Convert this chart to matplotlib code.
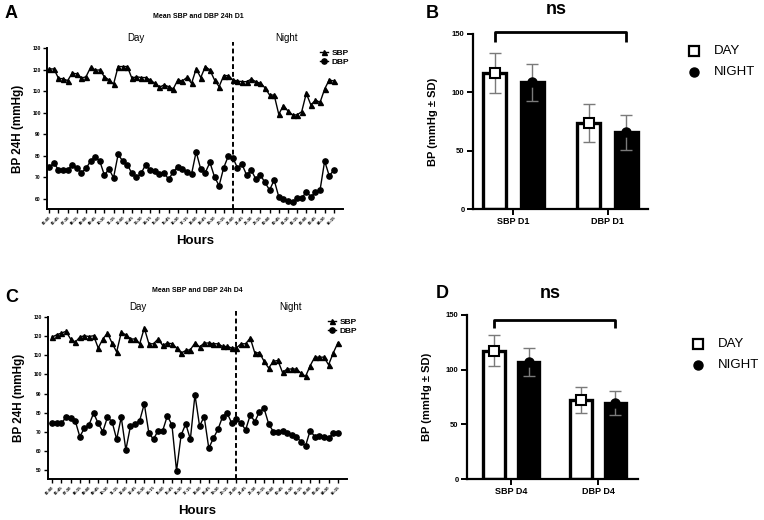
import matplotlib
matplotlib.use("Agg")
import matplotlib.pyplot as plt
import numpy as np

plt.rcParams['font.family'] = ['Liberation Sans', 'DejaVu Sans']
plt.rcParams['font.weight'] = 'bold'
plt.rcParams['axes.labelweight'] = 'bold'

W, H = 764, 520

# ---- 24h curves (one reading per slot, day slots then night slots) ----
sbp_d1 = [120.3, 120.3, 116.0, 115.7, 114.9, 118.4, 118.0, 116.0, 116.7, 121.0, 119.8, 119.8,
          116.7, 115.2, 113.2, 121.4, 121.4, 121.4, 116.0, 116.7, 116.3, 116.3, 115.2, 113.6,
          111.8, 112.9, 112.1, 111.0, 115.2, 114.7, 116.4, 113.6, 120.3, 116.3, 121.4, 119.8,
          115.2, 112.1, 117.2, 117.2, 115.2,
          114.7, 114.4, 114.4, 115.6, 114.4, 113.6, 111.6, 108.2, 108.2, 99.3, 103.3, 100.8,
          99.0, 99.0, 100.5, 109.0, 103.6, 105.9, 104.8, 111.0, 115.2, 114.7]
dbp_d1 = [75.0, 76.5, 73.7, 73.4, 73.4, 76.0, 74.5, 72.3, 74.2, 77.6, 79.6, 77.6,
          71.1, 73.9, 69.9, 80.7, 77.6, 76.0, 71.9, 70.0, 71.9, 76.0, 73.4, 73.0,
          71.6, 72.3, 69.1, 72.6, 75.0, 73.9, 72.6, 71.6, 81.9, 73.9, 72.3, 77.0,
          70.3, 66.2, 74.5, 79.9, 79.1,
          74.5, 76.1, 71.1, 73.4, 69.3, 71.1, 67.7, 64.2, 68.8, 61.1, 60.0, 59.2,
          58.5, 60.3, 60.3, 63.4, 61.1, 63.1, 64.2, 77.6, 70.8, 73.4]
sbp_d4 = [119.5, 120.7, 121.6, 122.5, 118.5, 116.7, 119.5, 120.2, 119.8, 120.2, 113.8, 118.5,
          121.6, 116.4, 111.7, 121.9, 120.7, 118.5, 118.5, 116.0, 124.2, 116.0, 116.0, 118.5,
          115.1, 116.4, 116.0, 113.8, 111.1, 112.5, 112.9, 116.4, 114.3, 116.4, 116.4, 116.0,
          116.0, 114.6, 114.6, 113.8, 113.8,
          116.0, 116.0, 119.0, 111.1, 111.4, 106.8, 103.3, 106.8, 107.3, 101.0, 102.8, 102.8,
          102.8, 100.6, 98.9, 104.5, 109.0, 109.0, 109.0, 105.0, 111.1, 116.4]
dbp_d4 = [74.4, 74.8, 74.4, 77.6, 77.1, 75.8, 67.5, 71.8, 73.6, 79.7, 74.4, 70.1,
          77.6, 75.3, 66.1, 77.6, 60.5, 73.0, 74.1, 75.8, 84.6, 69.2, 66.1, 70.6,
          70.6, 78.3, 73.6, 49.6, 68.3, 74.1, 66.1, 89.3, 73.0, 77.9, 61.4, 66.6,
          71.3, 77.9, 79.7, 74.4, 76.5,
          74.4, 71.0, 78.8, 75.3, 80.5, 82.2, 74.1, 70.1, 70.1, 70.3, 69.2, 68.3,
          67.5, 64.8, 62.6, 70.6, 67.5, 67.8, 67.5, 66.6, 69.2, 69.2]
night_start = 40
hour_labels = ["06:00", "06:45", "07:30", "08:15", "09:00", "09:45", "10:30", "11:15",
               "12:00", "12:45", "13:30", "14:15", "15:00", "15:45", "16:30", "17:15",
               "18:00", "18:45", "19:30", "20:15", "21:00", "21:45", "22:30", "23:15",
               "00:00", "00:45", "01:30", "02:15", "03:00", "03:45", "04:30", "05:15"]

# ---- day / night means (bars) ----
groups_d1 = ["SBP D1", "DBP D1"]
groups_d4 = ["SBP D4", "DBP D4"]
day_d1, day_sd_d1 = [116.5, 73.7], [17.0, 16.5]
night_d1, night_sd_d1 = [108.5, 66.0], [16.0, 15.0]
day_d4, day_sd_d4 = [117.3, 72.3], [14.4, 11.8]
night_d4, night_sd_d4 = [107.3, 69.8], [12.8, 11.0]


def px_axes(fig, left, top, right, bottom):
    return fig.add_axes([left / W, 1 - bottom / H, (right - left) / W, (bottom - top) / H])


def ftext(fig, x, y, s, **kw):
    fig.text(x / W, 1 - y / H, s, **kw)


def line_panel(fig, box, sbp, dbp, ylim, yticks, xlim, title, tpos, letter, lpos):
    ax = px_axes(fig, *box)
    x = np.arange(len(sbp))
    ax.plot(x, sbp, '-^', color='black', lw=1, ms=3.6, label='SBP')
    ax.plot(x, dbp, '-o', color='black', lw=1, ms=3.8, label='DBP')
    ax.axvline(night_start, ymin=0, ymax=1.04, color='black', lw=1.4,
               ls=(0, (2.5, 1.5)), clip_on=False)
    ax.set_xlim(*xlim)
    ax.set_ylim(*ylim)
    ax.set_yticks(yticks)
    ax.set_yticklabels([str(v) for v in yticks], fontsize=3.6)
    ax.set_xticks(x[::2])
    ax.set_xticklabels(hour_labels, rotation=45, ha='right', fontsize=3, rotation_mode='anchor')
    for s in ['top', 'right']:
        ax.spines[s].set_visible(False)
    for s in ['left', 'bottom']:
        ax.spines[s].set_linewidth(1.4)
    ax.tick_params(length=3, width=1, pad=1.5)
    ax.text(0.30, 1.03, "Day", transform=ax.transAxes, ha='center', va='bottom',
            fontsize=7, fontweight='normal')
    ax.text(0.81, 1.03, "Night", transform=ax.transAxes, ha='center', va='bottom',
            fontsize=7, fontweight='normal')
    ax.legend(loc='upper left', bbox_to_anchor=(lpos[0] / W, 1 - lpos[1] / H),
              bbox_transform=fig.transFigure, frameon=False, fontsize=6,
              handlelength=1.0, handletextpad=0.4, labelspacing=0.15, borderpad=0,
              borderaxespad=0)
    ax.set_ylabel("BP 24H (mmHg)", fontsize=8.5, labelpad=6)
    ax.set_xlabel("Hours", fontsize=9.5, labelpad=7)
    ftext(fig, tpos[0], tpos[1], title, ha='center', va='center', fontsize=5)
    ftext(fig, letter[1], letter[2], letter[0], ha='left', va='center', fontsize=13)
    return ax


def bar_panel(fig, box, groups, day, day_sd, night, night_sd, xlim, bracket, ns_y,
              letter, leg):
    ax = px_axes(fig, *box)
    x = np.arange(len(groups))
    off, bw = 0.2, 0.25
    ax.bar(x - off, day, bw, color='white', edgecolor='black', lw=2.4, zorder=2)
    ax.bar(x + off, night, bw, color='black', edgecolor='black', lw=2.4, zorder=2)
    ax.errorbar(x - off, day, yerr=day_sd, fmt='none', ecolor='#7a7a7a', elinewidth=1,
                capsize=4, capthick=1, zorder=3)
    ax.errorbar(x + off, night, yerr=night_sd, fmt='none', ecolor='#7a7a7a', elinewidth=1,
                capsize=4, capthick=1, zorder=3)
    ax.plot(x - off, day, 's', ms=6.5, mfc='white', mec='black', mew=1.5, zorder=4)
    ax.plot(x + off, night, 'o', ms=6.5, color='black', zorder=4)
    ax.set_xlim(*xlim)
    ax.set_ylim(0, 150)
    ax.set_yticks([0, 50, 100, 150])
    ax.set_yticklabels(["0", "50", "100", "150"], fontsize=5.5)
    ax.set_xticks(x)
    ax.set_xticklabels(groups, fontsize=6.5)
    for s in ['top', 'right']:
        ax.spines[s].set_visible(False)
    for s in ['left', 'bottom']:
        ax.spines[s].set_linewidth(1.6)
    ax.tick_params(length=4, width=1.4, pad=2)
    x0, x1, yt, yb = bracket
    ax.plot([x0, x0, x1, x1], [yb, yt, yt, yb], color='black', lw=2, clip_on=False,
            solid_capstyle='butt')
    ax.text((x0 + x1) / 2 - 0.05, ns_y, "ns", ha='center', va='center', fontsize=13)
    ax.set_ylabel("BP (mmHg \u00b1 SD)", fontsize=8, labelpad=10)
    ftext(fig, letter[1], letter[2], letter[0], ha='left', va='center', fontsize=13)
    lx, ly = leg
    fig.lines.append(plt.Line2D([lx / W], [1 - ly / H], marker='s', ms=6.5, mfc='white',
                                mec='black', mew=1.6, transform=fig.transFigure))
    fig.lines.append(plt.Line2D([lx / W], [1 - (ly + 21) / H], marker='o', ms=6.5,
                                color='black', transform=fig.transFigure))
    ftext(fig, lx + 20, ly, "DAY", ha='left', va='center', fontsize=9.5, fontweight='normal')
    ftext(fig, lx + 20, ly + 21, "NIGHT", ha='left', va='center', fontsize=9.5,
          fontweight='normal')
    return ax


fig = plt.figure(figsize=(W / 100, H / 100), dpi=100)

line_panel(fig, (47, 48, 343, 209), sbp_d1, dbp_d1, (55.4, 130), list(range(60, 131, 10)),
           (-0.5, 64), "Mean SBP and DBP 24h D1", (198, 16), ("A", 5, 13), (320, 49))
line_panel(fig, (48, 317, 347, 479), sbp_d4, dbp_d4, (45.3, 130), list(range(50, 131, 10)),
           (-0.9, 64), "Mean SBP and DBP 24h D4", (197, 290), ("C", 5, 297), (328, 318))

bar_panel(fig, (473, 34, 648, 209), groups_d1, day_d1, day_sd_d1, night_d1, night_sd_d1,
          (-0.43, 1.43), (-0.2, 1.2, 151.5, 143), 171, ("B", 426, 13), (694, 51))
bar_panel(fig, (467, 315, 638, 479), groups_d4, day_d4, day_sd_d4, night_d4, night_sd_d4,
          (-0.51, 1.46), (-0.2, 1.2, 145.4, 137.8), 170, ("D", 436, 294), (698, 344))

fig.savefig("out.png", dpi=100)
